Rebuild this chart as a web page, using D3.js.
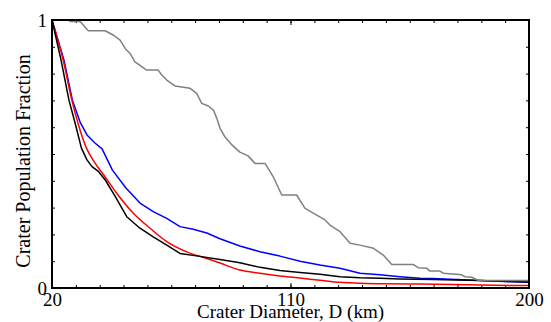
<!DOCTYPE html>
<html>
<head>
<meta charset="utf-8">
<style>
body { margin: 0; background: #fff; }
text { font-family: "Liberation Serif", "Times New Roman", serif; fill: #000; }
.line { fill: none; stroke-width: 1.5px; stroke-linejoin: round; }
.tick line { stroke: #000; stroke-width: 1px; }
</style>
<script src="https://cdn.jsdelivr.net/npm/d3@7"></script>
</head>
<body>
<svg width="551" height="322"></svg>
<script>
// cumulative fractions, [diameter km, fraction]
var grayData = [[20,1],[26.8,1],[26.8,0.994],[30.6,0.994],[33.7,0.960],[40.0,0.960],[43.1,0.944],[45.7,0.925],
  [47.6,0.894],[49.4,0.876],[51.3,0.844],[53.9,0.826],[55.7,0.813],[60.1,0.813],[61.4,0.795],[63.3,0.776],
  [66.4,0.754],[72.1,0.745],[74.6,0.726],[76.5,0.689],[79.0,0.679],[80.9,0.664],[82.2,0.633],[83.4,0.596],
  [85.3,0.563],[87.9,0.534],[90.9,0.507],[94.0,0.493],[96.6,0.465],[100.4,0.465],[103.5,0.415],[106.7,0.347],
  [112.3,0.347],[115.5,0.297],[119.9,0.272],[123.0,0.254],[124.9,0.235],[128.7,0.210],[132.5,0.167],[136.2,0.160],
  [141.3,0.148],[145.0,0.123],[148.2,0.088],[156.3,0.088],[158.2,0.076],[161.4,0.074],[162.6,0.063],[166.4,0.063],
  [167.7,0.055],[174.6,0.049],[175.9,0.042],[178.4,0.040],[180.9,0.028],[200,0.028]];

var blueData = [[20,1],[24.5,0.851],[27.7,0.701],[30.6,0.619],[33.2,0.571],[36.2,0.541],[38.9,0.519],[42.8,0.440],
  [47.9,0.373],[53.2,0.317],[58.2,0.285],[63.3,0.260],[68.3,0.229],[73.3,0.219],[78.4,0.205],[83.4,0.184],
  [90.9,0.157],[98.5,0.135],[106.0,0.119],[113.6,0.100],[121.1,0.086],[128.7,0.074],[136.2,0.055],[143.8,0.049],
  [151.3,0.042],[158.9,0.036],[163.8,0.035],[181.5,0.028],[200,0.021]];

var redData = [[20,1],[24.2,0.851],[27.5,0.701],[30.0,0.608],[33.0,0.522],[36.0,0.470],[39.8,0.418],[44.9,0.347],
  [50.7,0.279],[57.0,0.223],[63.3,0.173],[70.8,0.135],[78.4,0.110],[83.4,0.093],[90.9,0.067],[98.5,0.055],
  [106.0,0.045],[113.6,0.037],[121.1,0.029],[128.7,0.021],[136.2,0.018],[143.8,0.016],[158.9,0.015],[181.5,0.011],[200,0.009]];

var blackData = [[20,1],[23.4,0.851],[26.4,0.701],[28.9,0.608],[31.1,0.522],[33.2,0.478],[35.1,0.453],[37.6,0.434],
  [40.1,0.403],[43.9,0.341],[48.2,0.266],[53.2,0.223],[58.2,0.191],[63.3,0.160],[68.3,0.129],[75.8,0.118],
  [83.4,0.106],[90.9,0.094],[98.5,0.077],[106.0,0.065],[113.6,0.058],[121.1,0.051],[128.7,0.042],[136.2,0.038],
  [143.8,0.036],[151.3,0.034],[163.8,0.032],[181.5,0.028],[200,0.022]];

var xLabels = [20, 110, 200],
    yLabels = [0, 1];

var svg = d3.select("svg"),
    margin = {top: 20, right: 22, bottom: 34, left: 52},
    width = svg.attr("width") - margin.left - margin.right,
    height = svg.attr("height") - margin.top - margin.bottom,
    g = svg.append("g").attr("transform", "translate(" + margin.left + "," + margin.top + ")");

var x = d3.scaleLinear().domain([20, 200]).range([0, width]),
    y = d3.scaleLinear().domain([0, 1]).range([height, 0]);

var xMinor = d3.range(20, 201, 9),
    yMinor = d3.range(0, 1.001, 0.1);

function noText(sel) { sel.selectAll("text").remove(); sel.select(".domain").remove(); }

// minor ticks, pointing inward on every side
g.append("g").attr("transform", "translate(0," + height + ")")
    .call(d3.axisBottom(x).tickValues(xMinor).tickSizeInner(-3).tickSizeOuter(0)).call(noText);
g.append("g")
    .call(d3.axisTop(x).tickValues(xMinor).tickSizeInner(-3).tickSizeOuter(0)).call(noText);
g.append("g")
    .call(d3.axisLeft(y).tickValues(yMinor).tickSizeInner(-3).tickSizeOuter(0)).call(noText);
g.append("g").attr("transform", "translate(" + width + ",0)")
    .call(d3.axisRight(y).tickValues(yMinor).tickSizeInner(-3).tickSizeOuter(0)).call(noText);

// labelled ticks
var xAxis = g.append("g").attr("transform", "translate(0," + height + ")")
    .call(d3.axisBottom(x).tickValues(xLabels).tickSizeInner(-5).tickSizeOuter(0).tickPadding(5));
g.append("g")
    .call(d3.axisTop(x).tickValues(xLabels).tickSizeInner(-5).tickSizeOuter(0)).call(noText);
var yAxis = g.append("g")
    .call(d3.axisLeft(y).tickValues(yLabels).tickSizeInner(0).tickSizeOuter(0).tickPadding(5).tickFormat(d3.format("d")));

[xAxis, yAxis].forEach(function(a) {
  a.select(".domain").remove();
  a.selectAll("text").style("font-size", "19px");
});

var line = d3.line()
    .x(function(d) { return x(d[0]); })
    .y(function(d) { return y(d[1]); });

var smooth = d3.line()
    .curve(d3.curveMonotoneX)
    .x(function(d) { return x(d[0]); })
    .y(function(d) { return y(d[1]); });

var series = [
  {id: "blue", values: blueData, color: "#0000ff", gen: line},
  {id: "red", values: redData, color: "#ff0000", gen: smooth},
  {id: "black", values: blackData, color: "#000000", gen: line},
  {id: "gray", values: grayData, color: "#808080", gen: line}
];

g.selectAll(".line")
  .data(series)
  .enter().append("path")
    .attr("class", "line")
    .attr("d", function(d) { return d.gen(d.values); })
    .style("stroke", function(d) { return d.color; });

// frame
g.append("rect")
    .attr("width", width)
    .attr("height", height)
    .attr("fill", "none")
    .attr("stroke", "#000")
    .attr("stroke-width", 2);

svg.append("text")
    .attr("x", margin.left + width / 2)
    .attr("y", 318)
    .attr("text-anchor", "middle")
    .style("font-size", "19px")
    .text("Crater Diameter, D (km)");

svg.append("text")
    .attr("transform", "translate(30," + (margin.top + height / 2 + 7) + ") rotate(-90)")
    .attr("text-anchor", "middle")
    .style("font-size", "20px")
    .text("Crater Population Fraction");
</script>
</body>
</html>
